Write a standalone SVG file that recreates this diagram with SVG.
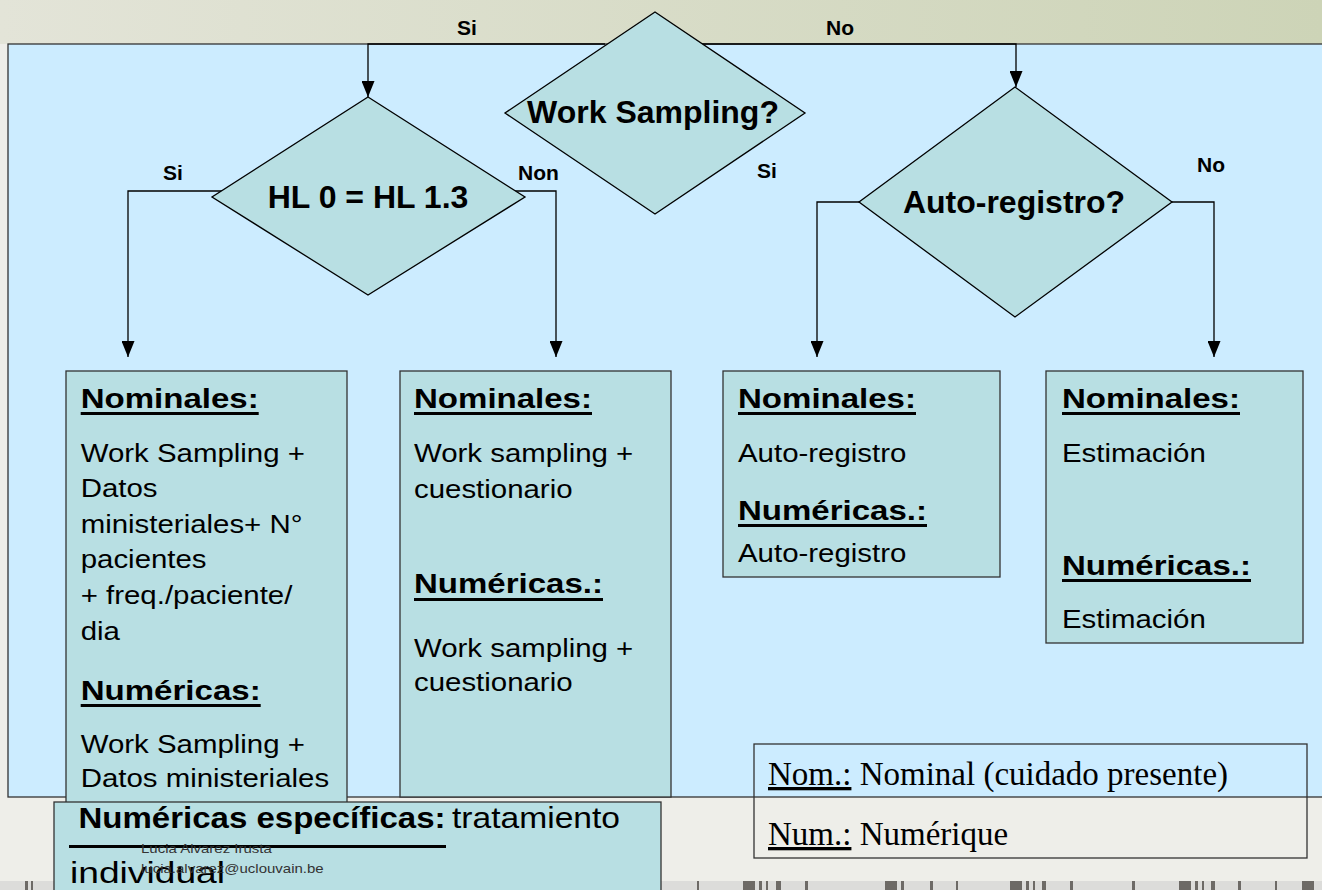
<svg xmlns="http://www.w3.org/2000/svg" width="1322" height="890" viewBox="0 0 1322 890">
<defs>
<linearGradient id="topg" x1="0" y1="0" x2="1" y2="0">
<stop offset="0" stop-color="#e3e4d8"/>
<stop offset="1" stop-color="#cdd4b7"/>
</linearGradient>
<marker id="ah" markerUnits="userSpaceOnUse" markerWidth="16" markerHeight="13" refX="16" refY="6.5" orient="auto">
<path d="M0,0 L16,6.5 L0,13 Z" fill="#000"/>
</marker>
<style>
.bx{fill:#B8DFE3;stroke:#333;stroke-width:1.3}
.dm{fill:#B8DFE3;stroke:#000;stroke-width:1.3}
.h{font-family:"Liberation Sans",Arial,sans-serif;font-weight:bold;font-size:28px;fill:#000}
.b{font-family:"Liberation Sans",Arial,sans-serif;font-size:26.5px;fill:#000}
.bb{font-family:"Liberation Sans",Arial,sans-serif;font-size:30px;fill:#000}
.dt{font-family:"Liberation Sans",Arial,sans-serif;font-weight:bold;font-size:32px;fill:#000;text-anchor:middle}
.lb{font-family:"Liberation Sans",Arial,sans-serif;font-weight:bold;font-size:21px;fill:#000}
.lg{font-family:"Liberation Serif","Times New Roman",serif;font-size:33px;fill:#000}
.ft{font-family:"Liberation Sans",Arial,sans-serif;font-size:12.5px;fill:#333}
.cn{fill:none;stroke:#000;stroke-width:1.3;marker-end:url(#ah)}
.bar{fill:#6d6a66}
</style>
</defs>

<g id="background">
<rect x="0" y="0" width="1322" height="890" fill="#eeeee9"/>
<rect x="0" y="0" width="1322" height="44" fill="url(#topg)"/>
<rect x="0" y="881" width="1322" height="9" fill="#dcdcda"/>
<rect class="bar" x="25" y="881" width="3" height="9"/>
<rect class="bar" x="31" y="881" width="2" height="9"/>
<rect class="bar" x="697" y="881" width="2" height="9"/>
<rect class="bar" x="743" y="881" width="12" height="9"/>
<rect class="bar" x="759" y="881" width="3" height="9"/>
<rect class="bar" x="766" y="881" width="2" height="9"/>
<rect class="bar" x="776" y="881" width="5" height="9"/>
<rect class="bar" x="805" y="881" width="3" height="9"/>
<rect class="bar" x="885" y="881" width="12" height="9"/>
<rect class="bar" x="901" y="881" width="3" height="9"/>
<rect class="bar" x="930" y="881" width="3" height="9"/>
<rect class="bar" x="956" y="881" width="2" height="9"/>
<rect class="bar" x="1010" y="881" width="12" height="9"/>
<rect class="bar" x="1026" y="881" width="3" height="9"/>
<rect class="bar" x="1033" y="881" width="2" height="9"/>
<rect class="bar" x="1042" y="881" width="4" height="9"/>
<rect class="bar" x="1070" y="881" width="3" height="9"/>
<rect class="bar" x="1132" y="881" width="3" height="9"/>
<rect class="bar" x="1179" y="881" width="12" height="9"/>
<rect class="bar" x="1195" y="881" width="3" height="9"/>
<rect class="bar" x="1202" y="881" width="2" height="9"/>
<rect class="bar" x="1211" y="881" width="4" height="9"/>
<rect class="bar" x="1238" y="881" width="3" height="9"/>
<rect class="bar" x="1275" y="881" width="2" height="9"/>
<rect class="bar" x="1302" y="881" width="12" height="9"/>
<rect x="8" y="44" width="1320" height="753" fill="#CCECFF" stroke="#333" stroke-width="1.3"/>
</g>

<g id="connectors">
<path class="cn" d="M605,44 H368 V97"/>
<path class="cn" d="M699,44 H1016 V87"/>
<path class="cn" d="M222,191 H128 V357"/>
<path class="cn" d="M515,191 H556 V357"/>
<path class="cn" d="M859,202 H817 V357"/>
<path class="cn" d="M1172,202 H1214 V357"/>
<text class="lb" x="457" y="35">Si</text>
<text class="lb" x="826" y="35">No</text>
<text class="lb" x="163" y="180">Si</text>
<text class="lb" x="518" y="180">Non</text>
<text class="lb" x="757" y="178">Si</text>
<text class="lb" x="1197" y="172">No</text>
</g>

<g id="node-work-sampling">
<polygon class="dm" points="655,12 805,113 655,214 505,113"/>
<text class="dt" x="653" y="123">Work Sampling?</text>
</g>

<g id="node-hl">
<polygon class="dm" points="368,97 525,197 368,295 212,197"/>
<text class="dt" x="368" y="208">HL 0 = HL 1.3</text>
</g>

<g id="node-auto-registro">
<polygon class="dm" points="1015,87 1172,202 1015,317 859,202"/>
<text class="dt" x="1014" y="213">Auto-registro?</text>
</g>

<g id="node-box1">
<rect class="bx" x="66" y="371" width="281" height="432"/>
<text class="h" x="80.7" y="408" textLength="178" lengthAdjust="spacingAndGlyphs">Nominales:</text>
<rect x="80.7" y="412" width="178" height="3"/>
<text class="b" transform="matrix(1.11 0 0 1 80.7 0)"><tspan x="0" y="462">Work Sampling +</tspan><tspan x="0" y="497">Datos</tspan><tspan x="0" y="533">ministeriales+ N°</tspan><tspan x="0" y="568">pacientes</tspan><tspan x="0" y="604">+ freq./paciente/</tspan><tspan x="0" y="640">dia</tspan></text>
<text class="h" x="80.7" y="700" textLength="180" lengthAdjust="spacingAndGlyphs">Numéricas:</text>
<rect x="80.7" y="704" width="180" height="3"/>
<text class="b" transform="matrix(1.11 0 0 1 80.7 0)"><tspan x="0" y="753">Work Sampling +</tspan><tspan x="0" y="787">Datos ministeriales</tspan></text>
</g>

<g id="node-box2">
<rect class="bx" x="400" y="371" width="271" height="426"/>
<text class="h" x="414" y="408" textLength="178" lengthAdjust="spacingAndGlyphs">Nominales:</text>
<rect x="414" y="412" width="178" height="3"/>
<text class="b" transform="matrix(1.11 0 0 1 414 0)"><tspan x="0" y="462">Work sampling +</tspan><tspan x="0" y="498">cuestionario</tspan></text>
<text class="h" x="414" y="593" textLength="189" lengthAdjust="spacingAndGlyphs">Numéricas.:</text>
<rect x="414" y="598" width="189" height="3"/>
<text class="b" transform="matrix(1.11 0 0 1 414 0)"><tspan x="0" y="657">Work sampling +</tspan><tspan x="0" y="691">cuestionario</tspan></text>
</g>

<g id="node-box3">
<rect class="bx" x="723" y="371" width="277" height="206"/>
<text class="h" x="738" y="408" textLength="178" lengthAdjust="spacingAndGlyphs">Nominales:</text>
<rect x="738" y="412" width="178" height="3"/>
<text class="b" transform="matrix(1.11 0 0 1 738 0)"><tspan x="0" y="462">Auto-registro</tspan></text>
<text class="h" x="738" y="520" textLength="189" lengthAdjust="spacingAndGlyphs">Numéricas.:</text>
<rect x="738" y="524" width="189" height="3"/>
<text class="b" transform="matrix(1.11 0 0 1 738 0)"><tspan x="0" y="562">Auto-registro</tspan></text>
</g>

<g id="node-box4">
<rect class="bx" x="1046" y="371" width="257" height="272"/>
<text class="h" x="1062" y="408" textLength="178" lengthAdjust="spacingAndGlyphs">Nominales:</text>
<rect x="1062" y="412" width="178" height="3"/>
<text class="b" transform="matrix(1.11 0 0 1 1062 0)"><tspan x="0" y="462">Estimación</tspan></text>
<text class="h" x="1062" y="575" textLength="189" lengthAdjust="spacingAndGlyphs">Numéricas.:</text>
<rect x="1062" y="579" width="189" height="3"/>
<text class="b" transform="matrix(1.11 0 0 1 1062 0)"><tspan x="0" y="628">Estimación</tspan></text>
</g>

<g id="node-legend">
<rect x="754" y="744" width="553" height="114" fill="none" stroke="#333" stroke-width="1.3"/>
<text class="lg" x="768" y="785"><tspan text-decoration="underline">Nom.:</tspan> Nominal (cuidado presente)</text>
<text class="lg" x="768" y="845"><tspan text-decoration="underline">Num.:</tspan> Numérique</text>
</g>

<g id="node-especificas">
<rect class="bx" x="54" y="802" width="607" height="100"/>
<text class="bb" x="78.5" y="828" font-weight="bold" textLength="367" lengthAdjust="spacingAndGlyphs">Numéricas específicas:</text>
<rect x="69" y="845" width="377" height="3"/>
<text class="bb" x="452" y="828" textLength="168" lengthAdjust="spacingAndGlyphs">tratamiento</text>
<text class="bb" x="70" y="883" textLength="155" lengthAdjust="spacingAndGlyphs">individual</text>
</g>

<g id="footer">
<text class="ft" transform="matrix(1.2 0 0 1 141 0)"><tspan x="0" y="853">Lucia Alvarez Irusta</tspan><tspan x="0" y="873">lucia.alvarez@uclouvain.be</tspan></text>
</g>
</svg>
